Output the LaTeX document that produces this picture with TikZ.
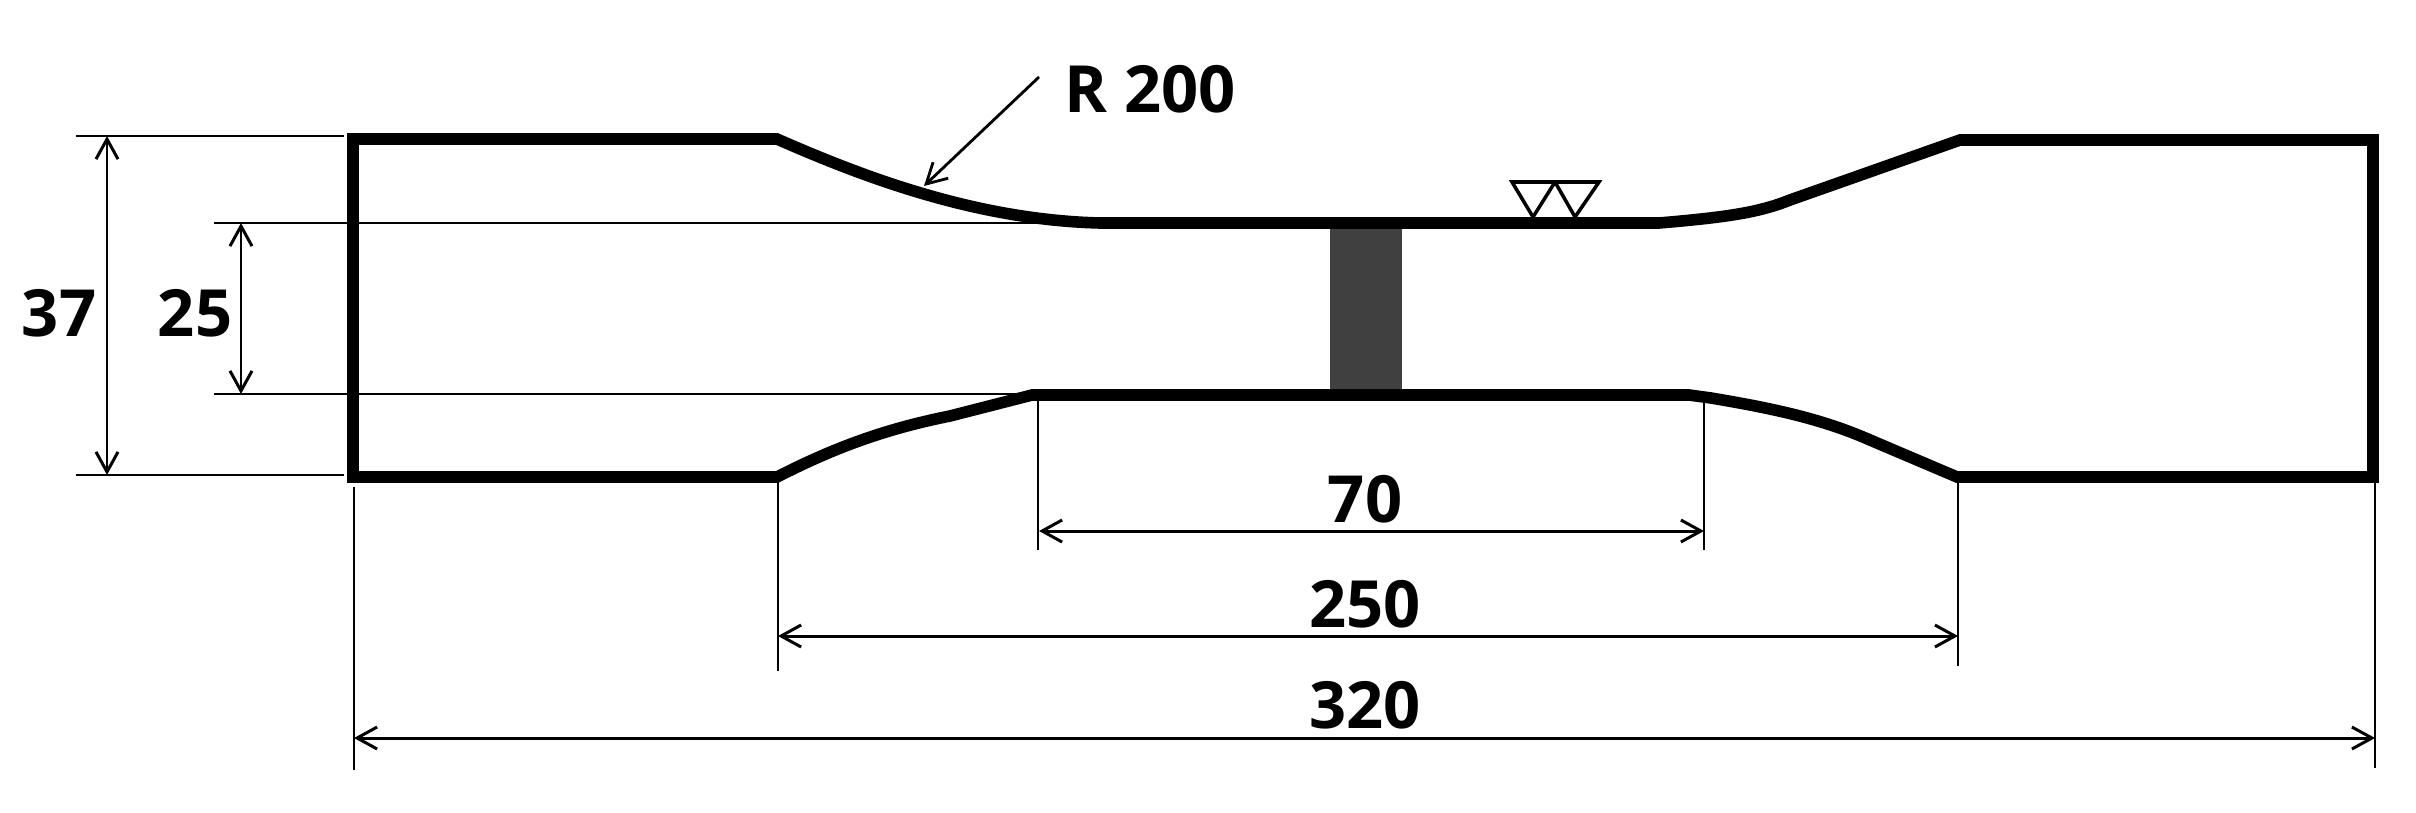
\documentclass[tikz,border=0pt]{standalone}
\usepackage{fontspec}
\setmainfont{Open Sans}
\usetikzlibrary{arrows.meta}
\usetikzlibrary{positioning}

\tikzset{
  outline/.style={line width=3.3pt,line join=miter},
  thinline/.style={line width=0.8pt},
  dimline/.style={line width=0.85pt,{Straight Barb[length=2mm,width=2.2mm]}-{Straight Barb[length=2mm,width=2.2mm]}},
  dimtext/.style={font=\fontsize{18.5}{20}\selectfont\bfseries,inner sep=0pt},
  weld/.style={line width=1pt}
}

\begin{document}
\begin{tikzpicture}[x=0.01cm,y=-0.01cm]
  \useasboundingbox (0,0) rectangle (2416,812);

  %points for dimension lines
  \foreach \name/\x/\y in {a1/76/136,a2/344/136,b1/76/475,b2/344/475,
      c1/214/223,c2/1060/223,d1/214/394,d2/1035/394,
      e1/354/487,e2/354/770,f1/778/480,f2/778/671,g1/1038/398,g2/1038/550,
      h1/1704/398,h2/1704/550,i1/1958/480,i2/1958/666,j1/2375/483,j2/2375/768,
      k1/107/136,k2/107/475,l1/241/223,l2/241/394,
      m1/1039/531,m2/1704/531,n1/778/636,n2/1958/636,o1/354/738,o2/2375/738,
      r1/1039/77,r2/924/186}{
    \coordinate (\name) at (\x,\y);
  }

  %center strip
  \fill[fill=black!75] (1330,223) rectangle (1402,395);

  %specimen
  \draw[outline] (353,139) -- (777,139)
    .. controls (870,180) and (980,220) .. (1100,223)
    -- (1659,223)
    .. controls (1730,217) and (1760,212) .. (1790,200)
    -- (1960,140)
    -- (2373,140) -- (2373,477) -- (1957,477)
    -- (1870,440)
    .. controls (1820,418) and (1770,408) .. (1711,398)
    -- (1689,395)
    -- (1032,395)
    -- (950,416)
    .. controls (880,430) and (830,450) .. (777,477)
    -- (353,477) -- cycle;

  %weld mark
  \foreach \i/\xa/\xb/\xc in {0/1512/1533/1555,1/1555/1575/1599}{
    \draw[weld] (\xa,182) -- (\xb,217) -- (\xc,182) -- cycle;
  }

  %extension lines
  \foreach \p/\q in {a1/a2,b1/b2,c1/c2,d1/d2,e1/e2,f1/f2,g1/g2,h1/h2,i1/i2,j1/j2}{
    \draw[thinline] (\p) -- (\q);
  }

  %dimension arrows
  \foreach \p/\q in {k1/k2,l1/l2,m1/m2,n1/n2,o1/o2}{
    \draw[dimline] (\p) -- (\q);
  }
  \draw[thinline,-{Straight Barb[length=2mm,width=2.2mm]}] (r1) -- (r2);

  %labels
  \foreach \name/\x/\y/\num in {t37/59/313/37,t25/195/313/25,t70/1365/499/70,t250/1365/604/250,t320/1365/705/320,tR/1150/89/R 200}{
    \node[dimtext] (\name) at (\x,\y) {\num};
  }
\end{tikzpicture}
\end{document}
